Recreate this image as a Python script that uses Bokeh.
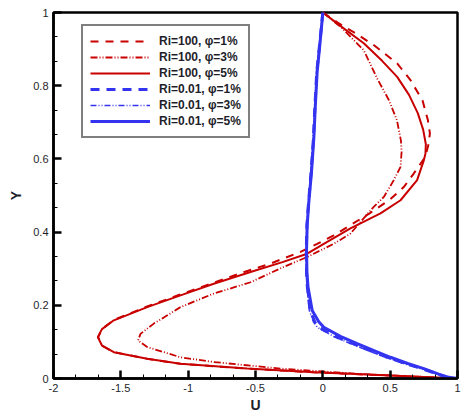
from bokeh.plotting import figure
from bokeh.models import SingleIntervalTicker, CustomJSTickFormatter, Legend, LegendItem, Range1d
from bokeh.embed import file_html
from bokeh.resources import INLINE

# Horizontal velocity U along the vertical centre line (Y), Ri = 100
u_ri100_phi1 = [0.000, 0.120, 0.243, 0.378, 0.552, 0.651, 0.740, 0.780, 0.795, 0.785, 0.760, 0.675,
                0.601, 0.502, 0.350, 0.205, 0.081, -0.042, -0.166, -0.389, -0.600, -0.830, -1.070,
                -1.310, -1.552, -1.640, -1.668, -1.640, -1.552, -1.304, -1.057, -0.562, -0.067, 0.502, 1.000]
y_ri100_phi1 = [1.000, 0.970, 0.943, 0.911, 0.861, 0.815, 0.760, 0.706, 0.670, 0.640, 0.605, 0.560,
                0.523, 0.490, 0.452, 0.419, 0.391, 0.368, 0.346, 0.314, 0.289, 0.259, 0.228,
                0.196, 0.160, 0.135, 0.113, 0.090, 0.072, 0.054, 0.040, 0.027, 0.017, 0.008, 0.000]

u_ri100_phi3 = [0.000, 0.140, 0.304, 0.403, 0.490, 0.550, 0.580, 0.585, 0.577, 0.527, 0.453, 0.378,
                0.205, 0.081, -0.116, -0.290, -0.537, -0.810, -1.057, -1.255, -1.354, -1.372,
                -1.304, -1.057, -0.810, -0.314, 0.300, 1.000]
y_ri100_phi3 = [1.000, 0.958, 0.897, 0.820, 0.761, 0.706, 0.650, 0.620, 0.578, 0.542, 0.496, 0.469,
                0.396, 0.368, 0.332, 0.305, 0.263, 0.232, 0.195, 0.150, 0.122, 0.104,
                0.086, 0.058, 0.045, 0.027, 0.012, 0.000]

u_ri100_phi5 = [0.000, 0.150, 0.304, 0.440, 0.552, 0.640, 0.705, 0.745, 0.765, 0.762, 0.750, 0.700,
                0.577, 0.428, 0.205, 0.007, -0.116, -0.300, -0.537, -0.810, -1.057, -1.304, -1.552,
                -1.640, -1.671, -1.640, -1.552, -1.304, -1.057, -0.562, -0.067, 0.502, 1.000]
y_ri100_phi5 = [1.000, 0.958, 0.916, 0.868, 0.824, 0.775, 0.725, 0.680, 0.640, 0.615, 0.596, 0.542,
                0.487, 0.451, 0.410, 0.368, 0.341, 0.318, 0.291, 0.259, 0.227, 0.195, 0.159,
                0.135, 0.113, 0.090, 0.072, 0.054, 0.040, 0.027, 0.017, 0.008, 0.000]

# Ri = 0.01
y_ri001 = [1.000, 0.920, 0.838, 0.750, 0.656, 0.560, 0.482, 0.420, 0.350, 0.290, 0.250, 0.186,
           0.155, 0.140, 0.115, 0.095, 0.076, 0.058, 0.041, 0.027, 0.012, 0.004, 0.000]
u_ri001_phi1 = [0.000, -0.022, -0.045, -0.058, -0.070, -0.088, -0.106, -0.118, -0.123, -0.121, -0.115,
                -0.095, -0.060, -0.030, 0.095, 0.225, 0.352, 0.480, 0.612, 0.737, 0.852, 0.918, 1.000]
u_ri001_phi3 = [0.000, -0.024, -0.047, -0.060, -0.072, -0.090, -0.108, -0.120, -0.125, -0.123, -0.118,
                -0.100, -0.070, -0.042, 0.080, 0.208, 0.337, 0.465, 0.600, 0.728, 0.846, 0.915, 1.000]
u_ri001_phi5 = [0.000, -0.020, -0.042, -0.055, -0.067, -0.085, -0.104, -0.116, -0.121, -0.118, -0.110,
                -0.079, -0.030, 0.007, 0.130, 0.255, 0.380, 0.502, 0.630, 0.750, 0.860, 0.923, 1.000]

labels = ["Ri=100, φ=1%", "Ri=100, φ=3%", "Ri=100, φ=5%",
          "Ri=0.01, φ=1%", "Ri=0.01, φ=3%", "Ri=0.01, φ=5%"]

RED = "#c80000"
BLUE = "#3434f0"
FONT = "Liberation Sans"

p = figure(width=471, height=416, output_backend="svg", toolbar_location=None,
           x_range=Range1d(-2, 1), y_range=Range1d(0, 1),
           min_border_left=53, min_border_right=14, min_border_top=12, min_border_bottom=38)
p.background_fill_color = "white"
p.border_fill_color = "white"
p.outline_line_color = "black"
p.outline_line_width = 2.5
p.xgrid.visible = False
p.ygrid.visible = False

series = [
    (u_ri100_phi1, y_ri100_phi1, RED, 2.0, "8 7"),
    (u_ri100_phi3, y_ri100_phi3, RED, 1.8, "7 2 1 2 1 2"),
    (u_ri100_phi5, y_ri100_phi5, RED, 2.0, "solid"),
    (u_ri001_phi1, y_ri001, BLUE, 3.0, "9 7"),
    (u_ri001_phi3, y_ri001, BLUE, 1.6, "6 2 1 2 1 2"),
    (u_ri001_phi5, y_ri001, BLUE, 3.0, "solid"),
]

items = []
for (u, y, color, lw, dash), lab in zip(series, labels):
    r = p.line(u, y, line_color=color, line_width=lw, line_dash=dash)
    items.append(LegendItem(label=lab, renderers=[r]))

fmt = CustomJSTickFormatter(code="return String(Math.round(tick * 100) / 100);")

p.xaxis.ticker = SingleIntervalTicker(interval=0.5, num_minor_ticks=3)
p.yaxis.ticker = SingleIntervalTicker(interval=0.2, num_minor_ticks=3)
for ax in (p.xaxis[0], p.yaxis[0]):
    ax.formatter = fmt
    ax.axis_line_color = "black"
    ax.axis_line_width = 2.5
    ax.major_tick_in = 8
    ax.major_tick_out = 0
    ax.minor_tick_in = 4
    ax.minor_tick_out = 0
    ax.major_tick_line_width = 2.5
    ax.minor_tick_line_width = 1
    ax.major_label_text_font = FONT
    ax.major_label_text_font_size = "11px"
    ax.major_label_text_color = "#1e1e2a"
    ax.major_label_standoff = 5
    ax.axis_label_text_font = FONT
    ax.axis_label_text_font_size = "14px"
    ax.axis_label_text_font_style = "bold"
    ax.axis_label_text_color = "#1e1e2a"

p.xaxis.axis_label = "U"
p.yaxis.axis_label = "Y"
p.xaxis.axis_label_standoff = 2
p.yaxis.axis_label_standoff = 6

legend = Legend(items=items, location=(28, 240), margin=0, padding=7, spacing=0,
                glyph_width=60, glyph_height=16, label_height=16, label_standoff=9,
                label_text_font=FONT, label_text_font_size="12px", label_text_font_style="bold",
                label_text_color="#1e1e2a",
                border_line_color="black", border_line_width=2.5, background_fill_alpha=1)
p.add_layout(legend)

open("out.html", "w").write(file_html(p, INLINE))
